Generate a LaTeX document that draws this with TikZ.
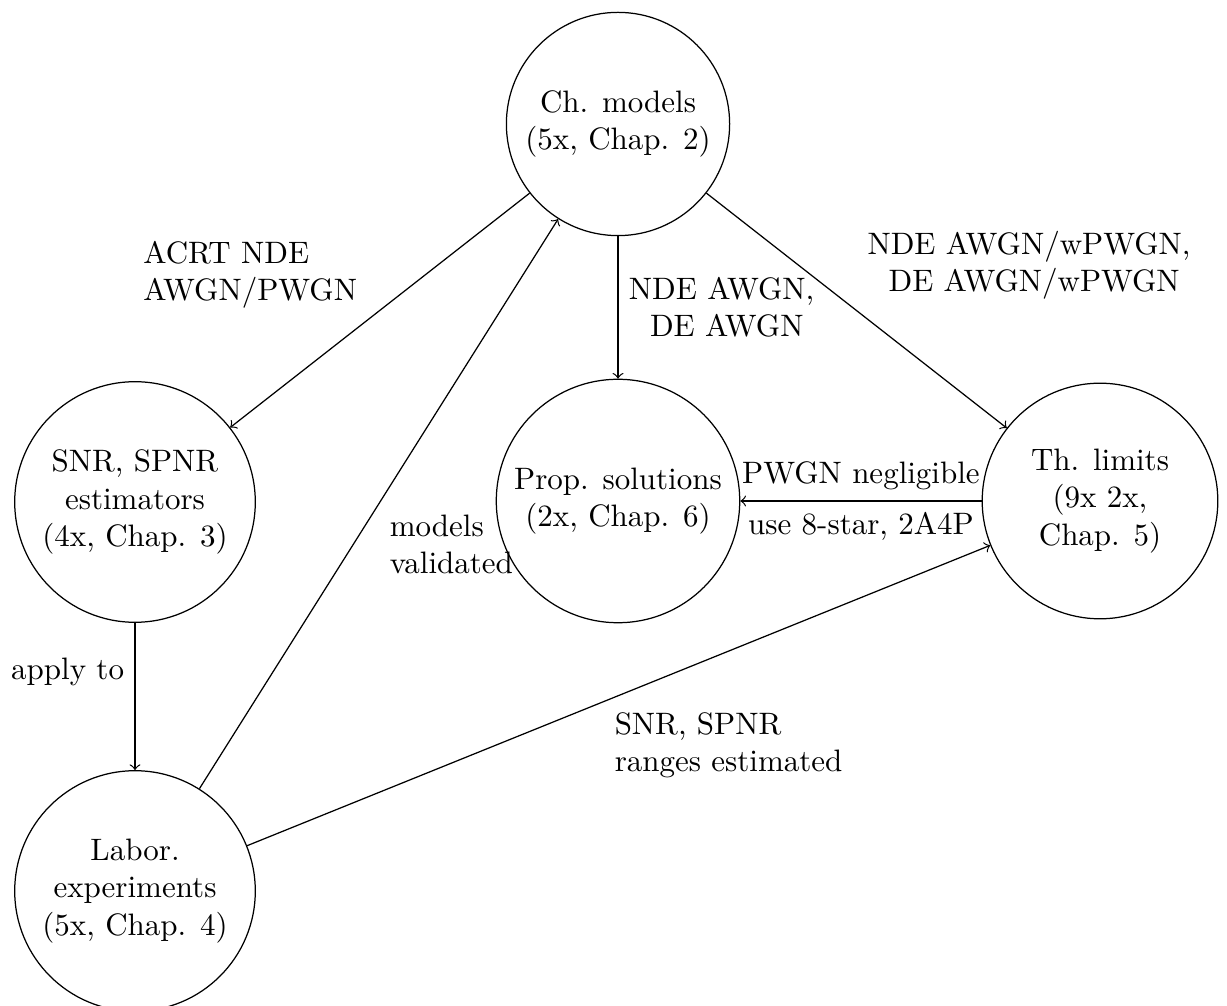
\documentclass[tikz,border=0pt]{standalone}
\usetikzlibrary{arrows}
\begin{document}
\begin{tikzpicture}[x={(0.3226pt,0)}, y={(0,-0.3226pt)},
  state/.style={circle, draw, align=center},
  conn/.style={->}]
\useasboundingbox (0,0) rectangle (1227,1006);
\node[state] (ch)   at (618,124) {Ch. models\\(5x, Chap. 2)};
\node[state] (snr)  at (135,502) {SNR, SPNR\\estimators\\(4x, Chap. 3)};
\node[state] (prop) at (618,501) {Prop. solutions\\(2x, Chap. 6)};
\node[state, minimum size=76pt] (th) at (1100,501) {Th. limits\\(9x 2x,\\Chap. 5)};
\node[state] (lab)  at (135,891) {Labor.\\experiments\\(5x, Chap. 4)};

\draw[conn] (ch) -- node[pos=0.54, above left, align=left] {ACRT NDE\\AWGN/PWGN} (snr);
\draw[conn] (ch) -- node[midway, right, align=center] {NDE AWGN,\\\mbox{}\ DE AWGN} (prop);
\draw[conn] (ch) -- node[midway, above right, align=center] {NDE AWGN/wPWGN,\\\mbox{}\ DE AWGN/wPWGN} (th);
\draw[conn] (th) -- node[midway, above] {PWGN negligible} node[midway, below] {use 8-star, 2A4P} (prop);
\draw[conn] (snr) -- node[midway, above left] {apply to} (lab);
\draw[conn] (lab) -- node[midway, below right, align=left] {models\\validated} (ch);
\draw[conn] (lab) -- node[pos=0.48, below right, align=left] {SNR, SPNR\\ranges estimated} (th);
\end{tikzpicture}
\end{document}
